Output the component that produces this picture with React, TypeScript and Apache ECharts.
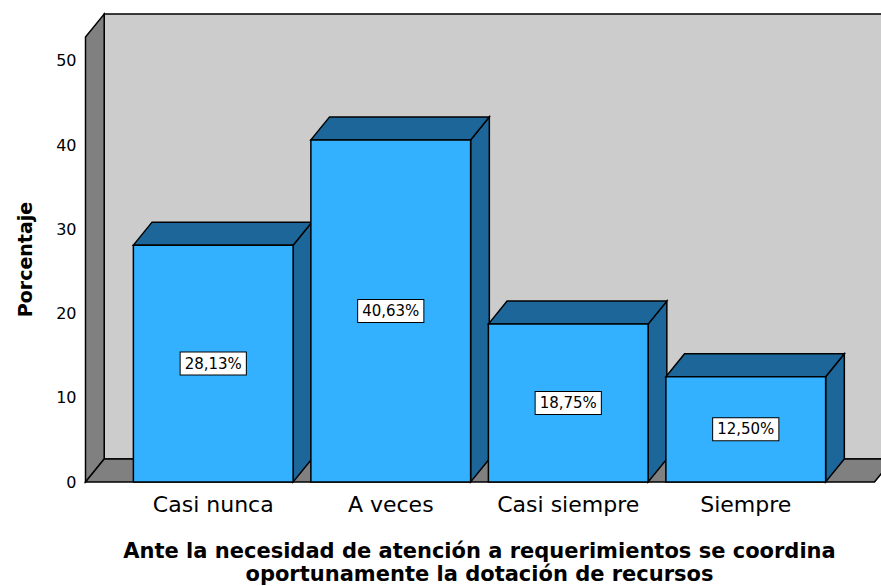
import React, { useEffect, useRef } from "react";
import * as echarts from "echarts";

// Response categories and their percentages
const categories = ["Casi nunca", "A veces", "Casi siempre", "Siempre"];
const percentages = [28.13, 40.63, 18.75, 12.5];
const yTickStep = 10;

const AXIS_TITLE = "Porcentaje";
const CHART_TITLE =
  "Ante la necesidad de atención a requerimientos se coordina\noportunamente la dotación de recursos";

// Pseudo-3D depth offset (pixels)
const DX = 18.7;
const DY = -23;

const FRONT = "#33b1ff";
const SHADE = "#1c6699";
const WALL_BACK = "#cccccc";
const WALL_SIDE = "#808080";
const EDGE = "#000000";

const fmt = (v: number) => v.toFixed(2).replace(".", ",") + "%";

export default function App() {
  const ref = useRef<HTMLDivElement>(null);

  useEffect(() => {
    if (!ref.current) return;
    const chart = echarts.init(ref.current, null, { renderer: "svg" });

    const option: any = {
      animation: false,
      backgroundColor: "#ffffff",
      grid: {
        left: 124.5,
        right: 46.5,
        top: 37,
        bottom: 104,
        containLabel: false,
        outerBoundsMode: "none",
      },
      xAxis: {
        type: "category",
        data: categories,
        axisLine: { show: false },
        axisTick: { show: false },
        axisLabel: {
          interval: 0,
          color: "#000",
          fontFamily: "DejaVu Sans",
          fontSize: 22,
          margin: 11,
        },
        name: CHART_TITLE,
        nameLocation: "middle",
        nameGap: 57,
        nameTextStyle: {
          color: "#000",
          fontFamily: "DejaVu Sans",
          fontWeight: "bold",
          fontSize: 21,
          lineHeight: 23,
          verticalAlign: "top",
        },
      },
      yAxis: {
        type: "value",
        min: 0,
        max: 52.85,
        interval: yTickStep,
        axisLine: { show: false },
        axisTick: { show: false },
        splitLine: { show: false },
        axisLabel: {
          color: "#000",
          fontFamily: "DejaVu Sans",
          fontSize: 16,
          margin: 48,
          formatter: (v: number) => (v % yTickStep === 0 ? String(v) : ""),
        },
        name: AXIS_TITLE,
        nameLocation: "middle",
        nameGap: 90,
        nameTextStyle: {
          color: "#000",
          fontFamily: "DejaVu Sans",
          fontWeight: "bold",
          fontSize: 19,
        },
      },
      series: [
        {
          // Back wall, side wall and floor of the 3D frame
          type: "custom",
          z: 1,
          silent: true,
          data: [[0, 0]],
          renderItem: (params: any, api: any) => {
            const cs = params.coordSys;
            const zero = api.coord([0, 0]);
            const y0 = zero[1];
            const yTop = cs.y;
            const xl = cs.x - 39;
            const xr = cs.x + cs.width + 40;
            const style = { stroke: EDGE, lineWidth: 1.5 };
            return {
              type: "group",
              children: [
                {
                  type: "rect",
                  shape: { x: xl + DX, y: yTop + DY, width: 2000, height: y0 - yTop },
                  style: { fill: WALL_BACK, ...style },
                },
                {
                  type: "polygon",
                  shape: {
                    points: [
                      [xl, yTop],
                      [xl + DX, yTop + DY],
                      [xl + DX, y0 + DY],
                      [xl, y0],
                    ],
                  },
                  style: { fill: WALL_SIDE, ...style },
                },
                {
                  type: "polygon",
                  shape: {
                    points: [
                      [xl, y0],
                      [xr, y0],
                      [xr + DX, y0 + DY],
                      [xl + DX, y0 + DY],
                    ],
                  },
                  style: { fill: WALL_SIDE, ...style },
                },
              ],
            };
          },
        },
        {
          type: "custom",
          z: 2,
          data: percentages.map((v, i) => [i, v]),
          renderItem: (params: any, api: any) => {
            const idx = api.value(0);
            const v = api.value(1);
            const base = api.coord([idx, 0]);
            const top = api.coord([idx, v]);
            const w = api.size([1, 0])[0] * 0.9;
            const l = base[0] - w / 2;
            const r = base[0] + w / 2;
            const t = top[1];
            const b = base[1];
            const edge = { stroke: EDGE, lineWidth: 1.5, lineJoin: "miter" };
            return {
              type: "group",
              children: [
                {
                  type: "polygon",
                  shape: {
                    points: [
                      [r, t],
                      [r + DX, t + DY],
                      [r + DX, b + DY],
                      [r, b],
                    ],
                  },
                  style: { fill: SHADE, ...edge },
                },
                {
                  type: "polygon",
                  shape: {
                    points: [
                      [l, t],
                      [l + DX, t + DY],
                      [r + DX, t + DY],
                      [r, t],
                    ],
                  },
                  style: { fill: SHADE, ...edge },
                },
                {
                  type: "rect",
                  shape: { x: l, y: t, width: w, height: b - t },
                  style: { fill: FRONT, ...edge },
                },
                {
                  type: "text",
                  z2: 10,
                  style: {
                    text: fmt(v),
                    x: base[0],
                    y: (t + b) / 2,
                    align: "center",
                    verticalAlign: "middle",
                    fontFamily: "DejaVu Sans",
                    fontSize: 15,
                    fill: "#000",
                    backgroundColor: "#ffffff",
                    borderColor: "#000000",
                    borderWidth: 1,
                    padding: [4, 4, 3, 4],
                  },
                },
              ],
            };
          },
        },
      ],
    };

    chart.setOption(option);
    return () => chart.dispose();
  }, []);

  return (
    <div
      ref={ref}
      style={{ position: "absolute", left: 0, top: 0, width: 881, height: 586 }}
    />
  );
}
